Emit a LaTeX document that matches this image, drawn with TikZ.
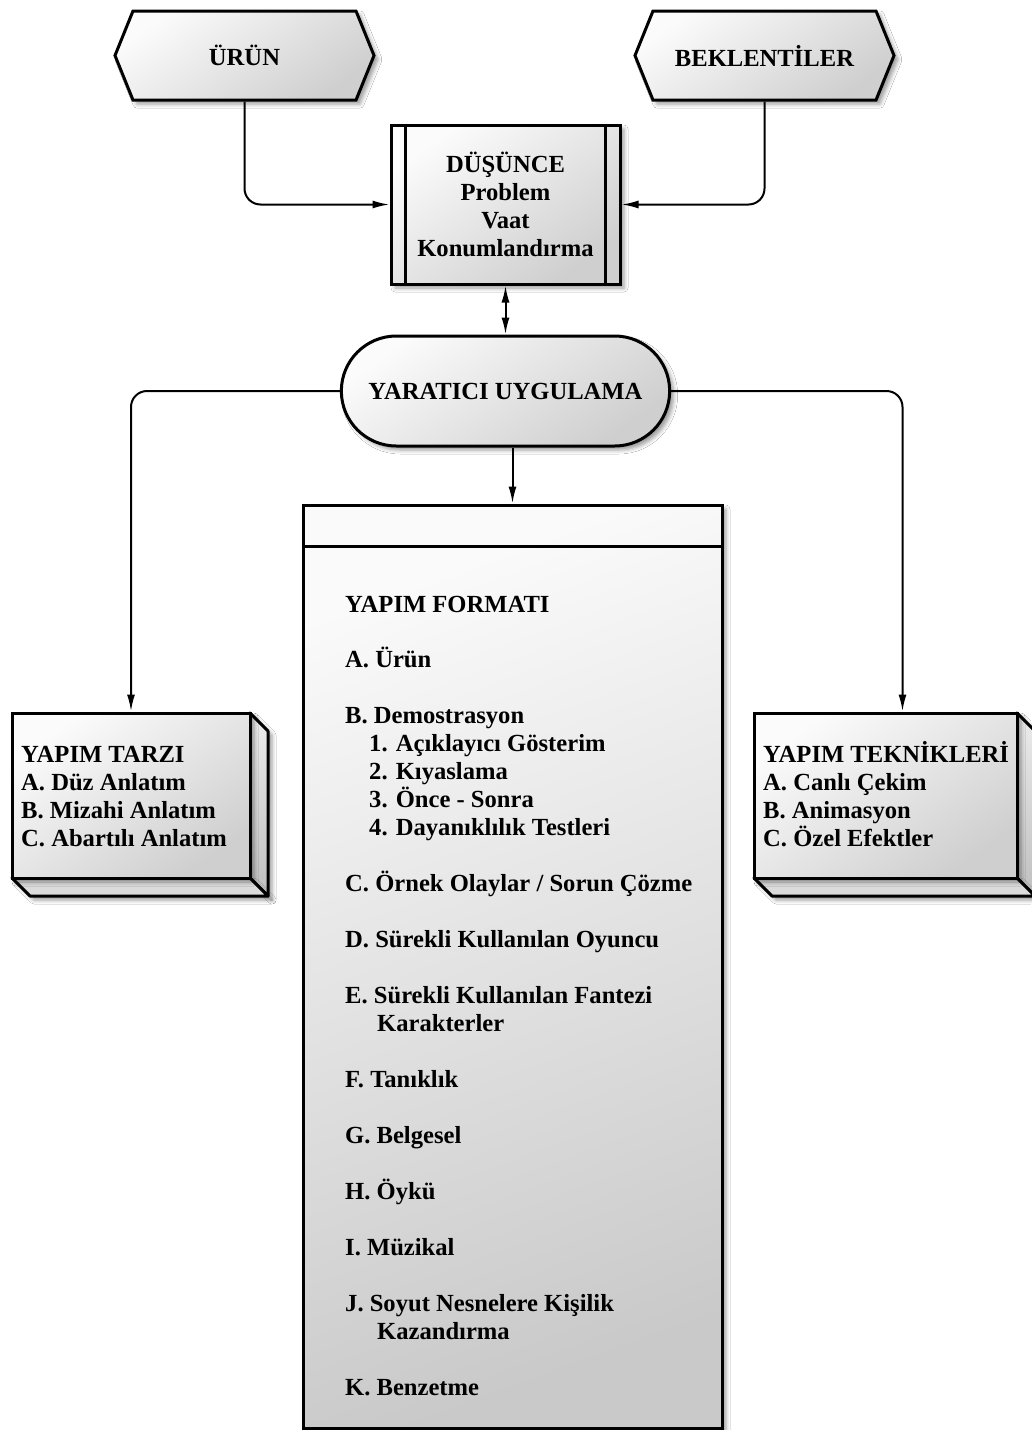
\documentclass[tikz,border=0pt]{standalone}
\usepackage{fontspec}
\setmainfont{Liberation Serif}
\usetikzlibrary{arrows.meta,shapes.symbols,shapes.misc,shadows.blur}
\begin{document}
\begin{tikzpicture}[x=1pt,y=-1pt,
  font=\fontsize{24.6}{28}\selectfont\bfseries,
  >={Latex[length=17pt,width=8pt]},
  shad/.style={blur shadow={shadow xshift=4pt, shadow yshift=-4pt, shadow blur radius=4pt, shadow opacity=40}},
  box/.style={draw=black, line width=3pt, top color=gray!3, bottom color=gray!38, shading angle=35, shad},
  face/.style={draw=black, line width=3pt, line join=round},
  conn/.style={draw=black, line width=2pt, rounded corners=16pt, ->},
  txt/.style={anchor=base west, inner sep=0pt},
]
\useasboundingbox (0,0) rectangle (1031,1430);
\fill[white] (0,0) rectangle (1031,1430);

% top hexagons
\node[box, signal, signal to=west and east, signal pointer angle=136,
      minimum width=259pt, minimum height=89pt] (urun) at (244.5,55.5) {ÜRÜN};
\node[box, signal, signal to=west and east, signal pointer angle=136,
      minimum width=259pt, minimum height=89pt] (bek) at (764.5,55.5) {BEKLENTİLER};

% DÜŞÜNCE
\node[box, minimum width=229pt, minimum height=159pt, align=center] (dus) at (505.5,204.5)
  {DÜŞÜNCE\\Problem\\Vaat\\Konumlandırma};
\draw[line width=3pt] ([xshift=16pt]dus.north west) -- ([xshift=16pt]dus.south west);
\draw[line width=3pt] ([xshift=-16pt]dus.north east) -- ([xshift=-16pt]dus.south east);

% YARATICI
\node[box, rounded rectangle, minimum width=335pt, minimum height=110pt] (yar) at (505.5,391) {YARATICI UYGULAMA};

% big box
\node[box, minimum width=419pt, minimum height=923pt, top color=gray!4, bottom color=gray!42, shading angle=20] (big) at (512.5,966.5) {};
\draw[line width=3pt] ([yshift=-43pt]big.north west) -- ([yshift=-43pt]big.north east);

% left 3D box
\draw[face, top color=gray!15, bottom color=gray!50, shad] (250,713) -- (268,731) -- (268,896) -- (250,878) -- cycle;
\draw[face, fill=gray!28, shad] (12,878) -- (250,878) -- (268,896) -- (30,896) -- cycle;
\node[box, minimum width=238pt, minimum height=165pt] (tarzi) at (131,795.5) {};

% right 3D box
\draw[face, top color=gray!15, bottom color=gray!50, shad] (1017,713) -- (1035,731) -- (1035,896) -- (1017,878) -- cycle;
\draw[face, fill=gray!28, shad] (754,878) -- (1017,878) -- (1035,896) -- (772,896) -- cycle;
\node[box, minimum width=263pt, minimum height=165pt] (tek) at (885.5,795.5) {};

% side texts
\node[txt] (ta0) at (21,762) {YAPIM TARZI};
\node[txt] (ta1) at (21,790) {A. Düz Anlatım};
\node[txt] (ta2) at (21,818) {B. Mizahi Anlatım};
\node[txt] (ta3) at (21,846) {C. Abartılı Anlatım};

\node[txt] (te0) at (763,762) {YAPIM TEKNİKLERİ};
\node[txt] (te1) at (763,790) {A. Canlı Çekim};
\node[txt] (te2) at (763,818) {B. Animasyon};
\node[txt] (te3) at (763,846) {C. Özel Efektler};

% big box texts
\node[txt] (f0) at (345,612) {YAPIM FORMATI};
\node[txt] (fa) at (345,667) {A. Ürün};
\node[txt] (fb) at (345,723) {B. Demostrasyon};
\node[txt] (fb1) at (369,751) {1. Açıklayıcı Gösterim};
\node[txt] (fb2) at (369,779) {2. Kıyaslama};
\node[txt] (fb3) at (369,807) {3. Önce - Sonra};
\node[txt] (fb4) at (369,835) {4. Dayanıklılık Testleri};
\node[txt] (fc) at (345,891) {C. Örnek Olaylar / Sorun Çözme};
\node[txt] (fd) at (345,947) {D. Sürekli Kullanılan Oyuncu};
\node[txt] (fe) at (345,1003) {E. Sürekli Kullanılan Fantezi};
\node[txt] (fe2) at (377,1031) {Karakterler};
\node[txt] (ff) at (345,1087) {F. Tanıklık};
\node[txt] (fg) at (345,1143) {G. Belgesel};
\node[txt] (fh) at (345,1199) {H. Öykü};
\node[txt] (fi) at (345,1255) {I. Müzikal};
\node[txt] (fj) at (345,1311) {J. Soyut Nesnelere Kişilik};
\node[txt] (fj2) at (377,1339) {Kazandırma};
\node[txt] (fk) at (345,1395) {K. Benzetme};

% connectors
\draw[conn] (urun.south) |- (dus.west);
\draw[conn] (bek.south) |- (dus.east);
\draw[conn, <->] (dus.south) -- (yar.north);
\draw[conn] (yar.west) -| (tarzi.north);
\draw[conn] (yar.east) -| ([xshift=17pt]tek.north);
\draw[conn] (big.north |- yar.south) -- (big.north);
\end{tikzpicture}
\end{document}
